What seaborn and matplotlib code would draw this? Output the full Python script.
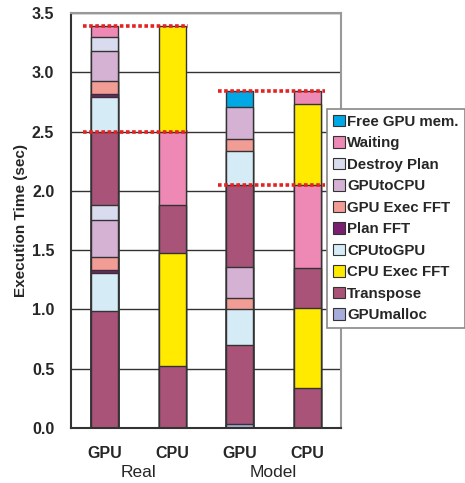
import matplotlib
matplotlib.use("Agg")
import matplotlib.pyplot as plt
import matplotlib.patches as mpatches
import pandas as pd
import seaborn as sns

# Categories (legend order, top to bottom)
categories = ["Free GPU mem.", "Waiting", "Destroy Plan", "GPUtoCPU", "GPU Exec FFT",
              "Plan FFT", "CPUtoGPU", "CPU Exec FFT", "Transpose", "GPUmalloc"]
colors = ["#00A8E6", "#EE88B4", "#D9DCEE", "#D5B1D3", "#F19C95",
          "#7B1F71", "#D5EBF5", "#FFEA00", "#A95379", "#A8ACD9"]

bar_ids = ["GPU-Real", "CPU-Real", "GPU-Model", "CPU-Model"]
bar_labels = ["GPU", "CPU", "GPU", "CPU"]
group_labels = ["Real", "Model"]

# segments of each bar, from bottom to top (seconds)
gpu_real_cat = ["Transpose", "CPUtoGPU", "Plan FFT", "GPU Exec FFT", "GPUtoCPU", "Destroy Plan",
                "Transpose", "CPUtoGPU", "Plan FFT", "GPU Exec FFT", "GPUtoCPU", "Destroy Plan", "Waiting"]
gpu_real_val = [0.99, 0.32, 0.02, 0.11, 0.315, 0.125, 0.62, 0.29, 0.03, 0.11, 0.25, 0.12, 0.09]

cpu_real_cat = ["Transpose", "CPU Exec FFT", "Transpose", "Waiting", "CPU Exec FFT"]
cpu_real_val = [0.52, 0.96, 0.40, 0.62, 0.89]

gpu_model_cat = ["GPUmalloc", "Transpose", "CPUtoGPU", "GPU Exec FFT", "GPUtoCPU",
                 "Transpose", "CPUtoGPU", "GPU Exec FFT", "GPUtoCPU", "Free GPU mem."]
gpu_model_val = [0.03, 0.67, 0.30, 0.10, 0.26, 0.69, 0.29, 0.10, 0.27, 0.13]

cpu_model_cat = ["Transpose", "CPU Exec FFT", "Transpose", "Waiting", "CPU Exec FFT", "Waiting"]
cpu_model_val = [0.34, 0.67, 0.34, 0.70, 0.68, 0.11]

# red dotted reference levels
real_marks = [2.50, 3.39]
model_marks = [2.05, 2.84]

sns.set_style("white")
plt.rcParams["font.family"] = ["Liberation Sans", "DejaVu Sans"]

rows = []
for bid, cats, vals in zip(bar_ids,
                           [gpu_real_cat, cpu_real_cat, gpu_model_cat, cpu_model_cat],
                           [gpu_real_val, cpu_real_val, gpu_model_val, cpu_model_val]):
    top = 0
    for c, v in zip(cats, vals):
        top += v
        rows.append({"bar": bid, "category": c, "top": top})
df = pd.DataFrame(rows).sort_values("top", ascending=False)
cmap = dict(zip(categories, colors))

fig = plt.figure(figsize=(4.65, 4.83), dpi=100)
ax = fig.add_axes([0.1527, 0.1139, 0.5806, 0.8592])

# draw cumulative tops largest first so lower segments paint over
for _, r in df.iterrows():
    sns.barplot(x=[r["bar"]], y=[r["top"]], order=bar_ids, color=cmap[r["category"]],
                saturation=1, width=0.4, edgecolor="#333333", linewidth=1.0, ax=ax)

ax.set_ylim(0, 3.5)
ax.set_xlim(-0.5, 3.5)
ax.set_yticks([0, 0.5, 1.0, 1.5, 2.0, 2.5, 3.0, 3.5])
ax.set_yticklabels([f"{v:.1f}" for v in ax.get_yticks()], fontsize=11.5, fontweight="bold")
ax.yaxis.grid(True, color="#333333", linewidth=1.0)
ax.set_axisbelow(True)
ax.set_xticks(range(4))
ax.set_xticklabels(bar_labels, fontsize=11.5, fontweight="bold")
ax.set_xticks([0.5, 1.5, 2.5], minor=True)
ax.tick_params(axis="x", which="major", length=0, pad=13)
ax.tick_params(axis="x", which="minor", direction="in", length=4, width=1, color="#333333")
ax.tick_params(axis="y", length=0, pad=12)
ax.set_xlabel("")
ax.set_ylabel("Execution Time (sec)", fontsize=11, fontweight="bold", labelpad=3)

for s in ["left", "bottom"]:
    ax.spines[s].set_color("#333333")
    ax.spines[s].set_linewidth(1.5)
for s in ["top", "right"]:
    ax.spines[s].set_color("#999999")
    ax.spines[s].set_linewidth(1.5)

for i, g in enumerate(group_labels):
    ax.text(2 * i + 0.5, -0.315, g, ha="center", va="top", fontsize=12.5, transform=ax.transData)

ax.hlines(real_marks, -0.32, 1.23, colors="#E52222", linewidth=2.6, linestyles=(0, (1, 0.7)), zorder=5)
ax.hlines(model_marks, 1.68, 3.26, colors="#E52222", linewidth=2.6, linestyles=(0, (1, 0.7)), zorder=5)

handles = [mpatches.Patch(facecolor=cmap[c], edgecolor="#333333", linewidth=0.8, label=c) for c in categories]
leg = fig.legend(handles=handles, loc="upper left", bbox_to_anchor=(0.703, 0.775),
                 borderaxespad=0, fancybox=False, framealpha=1, edgecolor="#888888",
                 prop={"size": 10.8, "weight": "bold"}, handlelength=0.8, handleheight=0.8,
                 handletextpad=0.15, labelspacing=0.5, borderpad=0.4)
leg.get_frame().set_linewidth(1.2)

fig.savefig("out.png", dpi=100)
